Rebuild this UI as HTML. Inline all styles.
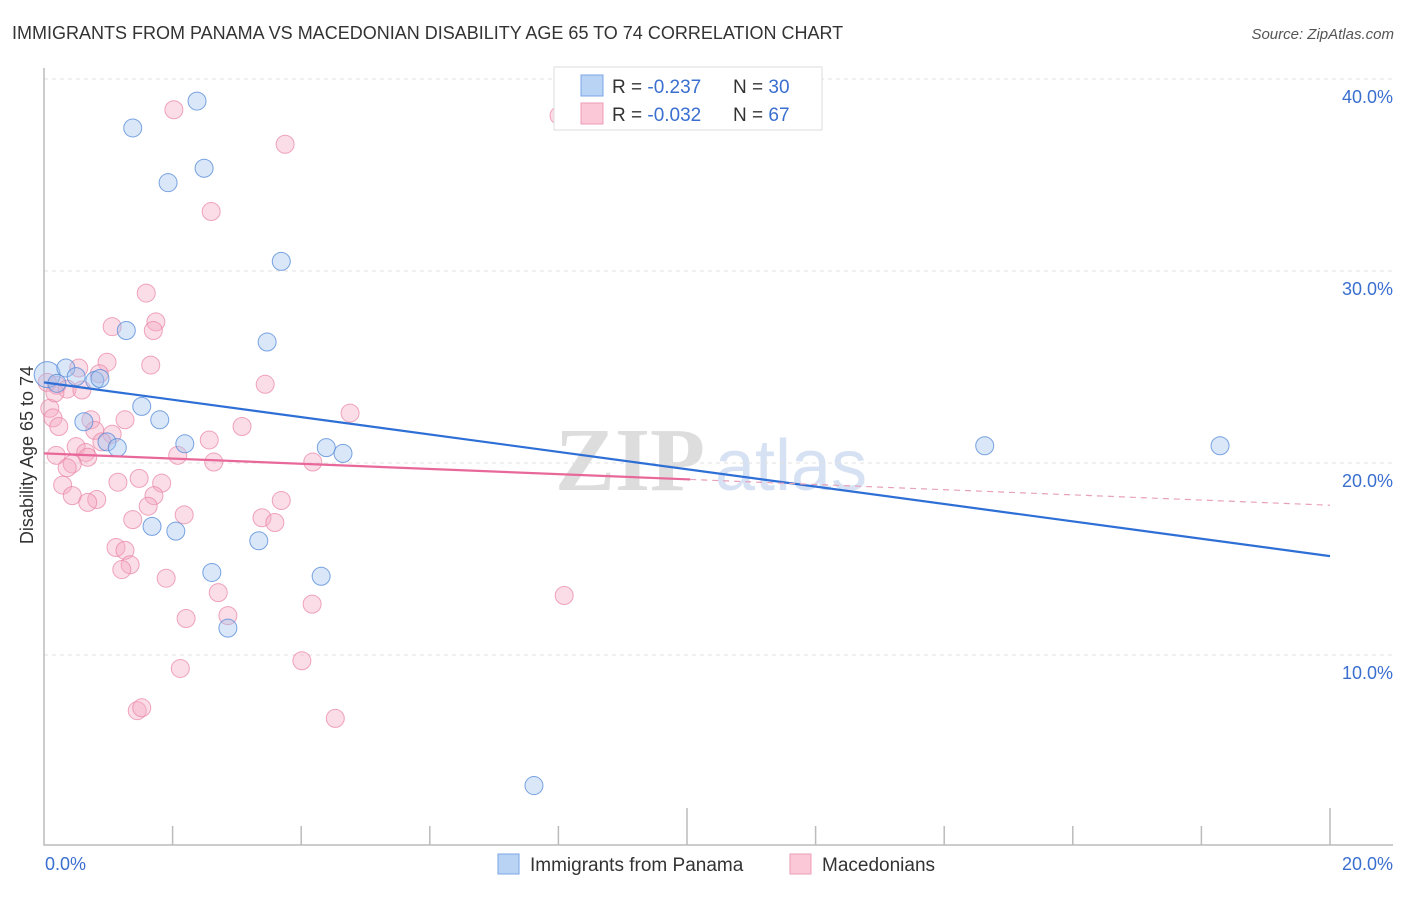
<!DOCTYPE html>
<html><head><meta charset="utf-8"><style>
body{margin:0;background:#fff;font-family:"Liberation Sans",sans-serif;}
</style></head><body>
<svg width="1406" height="892" xmlns="http://www.w3.org/2000/svg" id="svg" font-family="Liberation Sans, sans-serif">
<text x="12" y="39" font-size="18" fill="#333">IMMIGRANTS FROM PANAMA VS MACEDONIAN DISABILITY AGE 65 TO 74 CORRELATION CHART</text>
<text x="1394" y="39" font-size="15" fill="#555" font-style="italic" text-anchor="end">Source: ZipAtlas.com</text>
<g><text x="555" y="490" font-size="90" fill="#ddd" font-family="Liberation Serif, serif" font-weight="bold">ZIP</text><text x="715" y="490" font-size="72" fill="#d6e2f3">atlas</text></g>
<g id="grid"></g><g id="axes"></g><g id="marks"></g>
<text transform="translate(33,455) rotate(-90)" font-size="18" fill="#333" text-anchor="middle">Disability Age 65 to 74</text>
<text x="45" y="870" font-size="18" fill="#3a6fd0">0.0%</text>
<text x="1393" y="870" font-size="18" fill="#3a6fd0" text-anchor="end">20.0%</text>
<g>
<rect x="554" y="67" width="268" height="63" fill="#fff" stroke="#ddd"/>
<rect x="581" y="75" width="22" height="21" fill="#b9d3f5" stroke="#7aa6e6"/>
<rect x="581" y="103" width="22" height="21" fill="#fac8d7" stroke="#ee9db6"/>
<text x="612" y="93" font-size="19" fill="#333">R = <tspan fill="#3a6fd0">-0.237</tspan><tspan x="733">N = </tspan><tspan fill="#3a6fd0">30</tspan></text>
<text x="612" y="121" font-size="19" fill="#333">R = <tspan fill="#3a6fd0">-0.032</tspan><tspan x="733">N = </tspan><tspan fill="#3a6fd0"> 67</tspan></text>
</g>
<g>
<rect x="498" y="854" width="21" height="20" fill="#b9d3f5" stroke="#7aa6e6"/>
<text x="530" y="871" font-size="19" fill="#333">Immigrants from Panama</text>
<rect x="790" y="854" width="21" height="20" fill="#fac8d7" stroke="#ee9db6"/>
<text x="822" y="871" font-size="19" fill="#333">Macedonians</text>
</g>
</svg>
<script>
const yTicks=[10,20,30,40];
const yTickLabels=["10.0%","20.0%","30.0%","40.0%"];
const blueX=[2.38,1.38,1.93,2.49,3.69,1.28,3.47,0.05,0.34,0.2,0.5,0.79,0.87,1.52,1.80,0.62,0.98,1.14,2.19,4.39,4.65,1.68,2.05,3.34,2.61,4.31,2.86,7.62,14.63,18.29];
const blueY=[38.85,37.45,34.6,35.35,30.5,26.9,26.3,24.6,24.95,24.15,24.5,24.3,24.4,22.95,22.25,22.15,21.1,20.8,21.0,20.8,20.5,16.7,16.45,15.95,14.3,14.1,11.4,3.2,20.9,20.9];
const pinkX=[2.02,8.01,3.75,2.6,1.59,1.06,1.74,1.70,0.98,1.66,0.54,0.86,3.44,0.2,0.36,0.59,0.09,4.76,0.14,0.73,1.26,0.23,3.08,0.79,1.06,2.57,0.90,0.5,0.65,0.19,2.08,0.68,2.64,4.18,0.44,0.36,1.48,1.15,1.83,0.29,1.71,0.44,0.82,0.68,3.69,1.62,2.18,1.38,3.39,3.59,1.12,1.26,1.34,1.21,1.90,2.71,8.09,2.86,4.17,2.21,4.01,2.12,1.45,1.52,4.53,0.05,0.17];
const pinkY=[38.4,38.1,36.6,33.1,28.85,27.1,27.35,26.9,25.25,25.1,24.95,24.65,24.1,24.05,23.85,23.8,22.85,22.6,22.35,22.25,22.25,21.9,21.9,21.7,21.5,21.2,21.1,20.85,20.55,20.4,20.4,20.3,20.05,20.05,19.95,19.75,19.2,19.0,18.95,18.85,18.3,18.3,18.1,17.95,18.05,17.75,17.3,17.05,17.15,16.9,15.6,15.45,14.7,14.45,14.0,13.25,13.1,12.05,12.65,11.9,9.7,9.3,7.1,7.25,6.7,24.2,23.65];
const blueTrend=[24.2,15.15];
const pinkTrend=[20.5,17.8];
const pinkSolidEnd=10.05;
const sx=v=>44+v*64.3, sy=v=>847-v*19.2;
const NS="http://www.w3.org/2000/svg";
function mk(t,a,p){const e=document.createElementNS(NS,t);for(const k in a)e.setAttribute(k,a[k]);p.appendChild(e);return e;}
const grid=document.getElementById('grid'),axes=document.getElementById('axes'),marks=document.getElementById('marks');
yTicks.forEach((t,i)=>{
 const l=mk('line',{x1:44,x2:1393,y1:sy(t),y2:sy(t),stroke:'#e2e2e2','stroke-dasharray':'4,4'},grid);
 
 
 const tx=mk('text',{x:1393,y:sy(t)+24,'font-size':18,fill:'#3a6fd0','text-anchor':'end'},grid);
 tx.textContent=yTickLabels[i];
 
 
});
const ax=mk('path',{d:'M44,68 V845 H1393',fill:'none',stroke:'#bbb','stroke-width':1.5},axes);


for(let i=1;i<=10;i++){
 const x=sx(i*2);
 const tk=mk('line',{x1:x,x2:x,y1:(i==5||i==10)?808:826,y2:845,stroke:'#bbb','stroke-width':1.5},axes);
 
 
}
pinkX.forEach((v,i)=>{
 const c=mk('circle',{cx:sx(v),cy:sy(pinkY[i]),r:9,fill:'rgba(246,170,194,0.4)',stroke:'rgba(232,130,163,0.7)','stroke-width':1},marks);
 
 
});
blueX.forEach((v,i)=>{
 const c=mk('circle',{cx:sx(v),cy:sy(blueY[i]),r:i==7?13:9,fill:'rgba(160,195,240,0.4)',stroke:'rgba(80,135,215,0.75)','stroke-width':1},marks);
 
 
});
const bl=mk('line',{x1:sx(0),y1:sy(blueTrend[0]),x2:sx(20),y2:sy(blueTrend[1]),stroke:'#2e6fd6','stroke-width':2.2},marks);


const pAt=x=>pinkTrend[0]+(pinkTrend[1]-pinkTrend[0])*x/20;
const pl=mk('line',{x1:sx(0),y1:sy(pAt(0)),x2:sx(pinkSolidEnd),y2:sy(pAt(pinkSolidEnd)),stroke:'#e8689a','stroke-width':2.2},marks);


const pd=mk('line',{x1:sx(pinkSolidEnd),y1:sy(pAt(pinkSolidEnd)),x2:sx(20),y2:sy(pAt(20)),stroke:'#e8a0bb','stroke-width':1.2,'stroke-dasharray':'6,5'},marks);


</script>
</body></html>
